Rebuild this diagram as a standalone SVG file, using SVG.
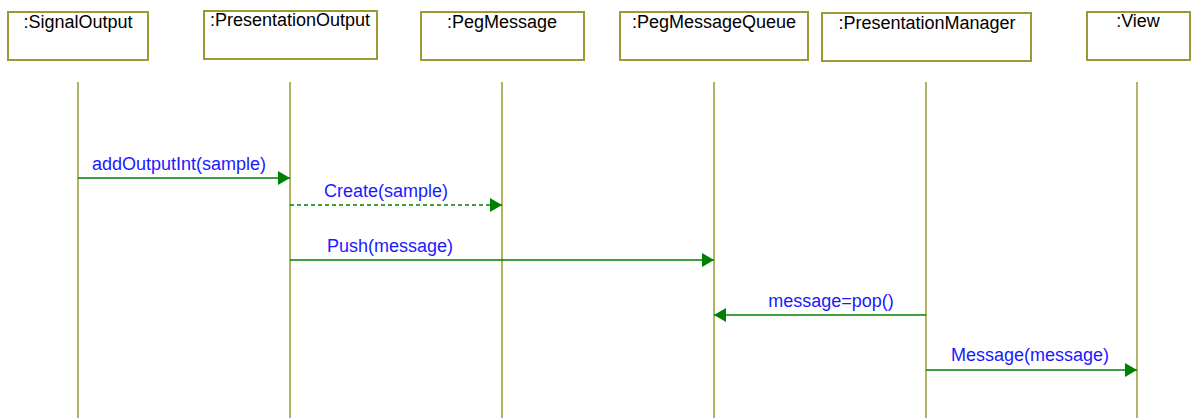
<svg xmlns="http://www.w3.org/2000/svg" width="1191" height="418" viewBox="0 0 1191 418">
  <style>
    .box { fill: #ffffff; stroke: #9a9a35; stroke-width: 2; }
    .name { font-family: "Liberation Sans", Arial, sans-serif; font-size: 18px; fill: #000000; text-anchor: middle; }
    .life { stroke: #8a8a10; stroke-width: 1.3; fill: none; }
    .msg { stroke: #008000; stroke-width: 1.4; fill: none; }
    .dash { stroke-dasharray: 4 3; }
    .label { font-family: "Liberation Sans", Arial, sans-serif; font-size: 18px; fill: #1a1aff; text-anchor: middle; }
  </style>
  <defs>
    <marker id="head" viewBox="0 0 12 14" refX="12" refY="7" markerWidth="12" markerHeight="14" markerUnits="userSpaceOnUse" orient="auto">
      <path d="M0,0 L12,7 L0,14 Z" fill="#008000"/>
    </marker>
  </defs>

  <!-- objects -->
  <g id="signalOutput">
    <rect class="box" x="8" y="12" width="140" height="48"/>
    <text class="name" x="78" y="28">:SignalOutput</text>
    <line class="life" x1="78" y1="82" x2="78" y2="418"/>
  </g>
  <g id="presentationOutput">
    <rect class="box" x="204" y="11" width="173" height="48"/>
    <text class="name" x="290" y="26">:PresentationOutput</text>
    <line class="life" x1="290" y1="82" x2="290" y2="418"/>
  </g>
  <g id="pegMessage">
    <rect class="box" x="421" y="12" width="163" height="48"/>
    <text class="name" x="502" y="28">:PegMessage</text>
    <line class="life" x1="502" y1="82" x2="502" y2="418"/>
  </g>
  <g id="pegMessageQueue">
    <rect class="box" x="620" y="12" width="188" height="48"/>
    <text class="name" x="714" y="28">:PegMessageQueue</text>
    <line class="life" x1="714" y1="82" x2="714" y2="418"/>
  </g>
  <g id="presentationManager">
    <rect class="box" x="822" y="13" width="209" height="48"/>
    <text class="name" x="927" y="29">:PresentationManager</text>
    <line class="life" x1="926" y1="82" x2="926" y2="418"/>
  </g>
  <g id="view">
    <rect class="box" x="1087" y="12" width="103" height="48"/>
    <text class="name" x="1138" y="27">:View</text>
    <line class="life" x1="1137" y1="82" x2="1137" y2="418"/>
  </g>

  <!-- messages -->
  <g id="connectors">
    <line class="msg" x1="78" y1="178" x2="290" y2="178" marker-end="url(#head)"/>
    <text class="label" x="179" y="170">addOutputInt(sample)</text>

    <line class="msg dash" x1="290" y1="205" x2="502" y2="205" marker-end="url(#head)"/>
    <text class="label" x="386" y="197">Create(sample)</text>

    <line class="msg" x1="290" y1="260" x2="714" y2="260" marker-end="url(#head)"/>
    <text class="label" x="390" y="252">Push(message)</text>

    <line class="msg" x1="926" y1="315" x2="714" y2="315" marker-end="url(#head)"/>
    <text class="label" x="831" y="307">message=pop()</text>

    <line class="msg" x1="926" y1="370" x2="1137" y2="370" marker-end="url(#head)"/>
    <text class="label" x="1030" y="361">Message(message)</text>
  </g>
</svg>
